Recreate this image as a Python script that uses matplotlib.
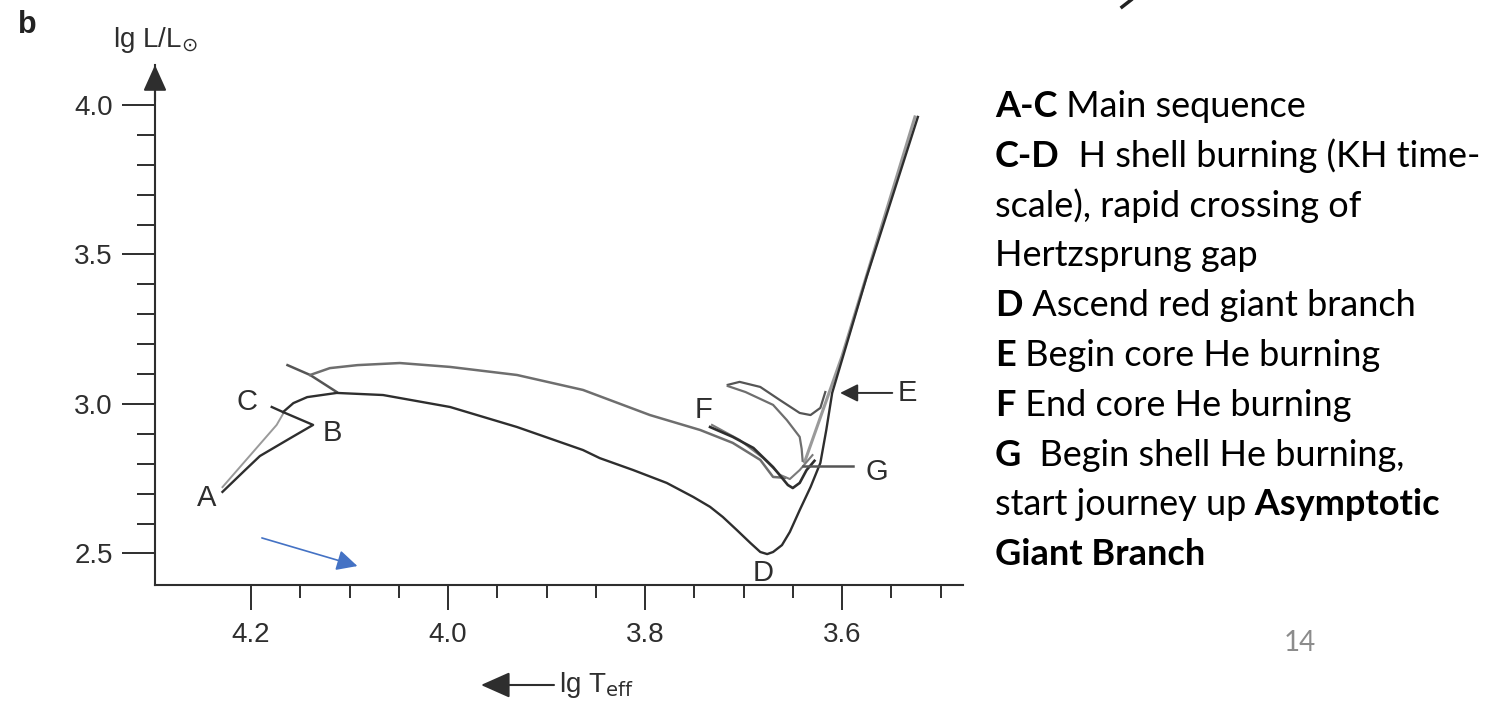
import numpy as np
import matplotlib
matplotlib.use('Agg')
import matplotlib.pyplot as plt
from matplotlib.ticker import FixedLocator, FixedFormatter

plt.rcParams['mathtext.fontset'] = 'custom'
plt.rcParams['mathtext.rm'] = 'Liberation Sans Narrow'
plt.rcParams['mathtext.it'] = 'Liberation Sans Narrow'

W, H = 1509, 709
NARROW = ['Liberation Sans Narrow', 'Liberation Sans', 'DejaVu Sans']
SLIDE = ['Lato', 'DejaVu Sans']
INK = '#2e2e2e'

# --- 5 Msun evolutionary track, lg Teff / lg L ---
# A -> B -> C (main sequence + hook)
ms_T = [4.229, 4.206, 4.191, 4.160, 4.137, 4.1675, 4.179]
ms_L = [2.706, 2.779, 2.826, 2.886, 2.930, 2.973, 2.990]
ms2_T = [4.229, 4.174, 4.1675]
ms2_L = [2.722, 2.930, 2.967]

# C -> D (Hertzsprung gap) and up the red giant branch
cd_T = [4.1675, 4.157, 4.143, 4.113, 4.066, 3.998, 3.930, 3.863, 3.846, 3.812,
        3.778, 3.751, 3.734, 3.721, 3.707, 3.693, 3.683, 3.676, 3.670, 3.661,
        3.653, 3.643, 3.632, 3.622, 3.616, 3.610, 3.575, 3.523]
cd_L = [2.973, 3.003, 3.023, 3.037, 3.030, 2.990, 2.923, 2.846, 2.819, 2.779,
        2.736, 2.689, 2.656, 2.622, 2.579, 2.535, 2.505, 2.498, 2.505, 2.528,
        2.572, 2.645, 2.722, 2.803, 2.913, 3.037, 3.425, 3.960]

# blue loop (upper thin track)
loop_T = [4.140, 4.120, 4.092, 4.049, 3.998, 3.930, 3.863, 3.795, 3.744, 3.711,
          3.683, 3.670, 3.658]
loop_L = [3.097, 3.120, 3.130, 3.137, 3.124, 3.097, 3.047, 2.963, 2.913, 2.870,
          2.813, 2.756, 2.753]
kink_T = [4.163, 4.140, 4.113]
kink_L = [3.130, 3.097, 3.040]

# E loops (core He ignition)
e1_T = [3.716, 3.704, 3.683, 3.663, 3.643, 3.632, 3.622, 3.617]
e1_L = [3.064, 3.074, 3.057, 3.013, 2.970, 2.963, 2.987, 3.040]
e2_T = [3.716, 3.698, 3.670, 3.656, 3.643, 3.641, 3.640]
e2_L = [3.060, 3.040, 2.997, 2.946, 2.890, 2.850, 2.810]

# F tracks (end of core He burning)
f1_T = [3.734, 3.711, 3.690, 3.670, 3.655, 3.650, 3.643, 3.636, 3.628]
f1_L = [2.923, 2.890, 2.853, 2.789, 2.729, 2.719, 2.736, 2.779, 2.810]
f2_T = [3.732, 3.704, 3.680, 3.663, 3.653, 3.643, 3.630]
f2_L = [2.930, 2.880, 2.819, 2.763, 2.749, 2.779, 2.829]

# AGB from G
agb_T = [3.638, 3.600, 3.526]
agb_L = [2.806, 3.160, 3.960]

point_names = ['A', 'B', 'C', 'D', 'E', 'F', 'G']
point_T = [4.245, 4.117, 4.204, 3.680, 3.534, 3.741, 3.565]
point_L = [2.686, 2.903, 3.007, 2.435, 3.037, 2.980, 2.773]

x_major = [4.2, 4.0, 3.8, 3.6]
x_major_labels = ['4.2', '4.0', '3.8', '3.6']
x_minor = [4.15, 4.10, 4.05, 3.95, 3.90, 3.85, 3.75, 3.70, 3.65, 3.55, 3.50]
y_major = [2.5, 3.0, 3.5, 4.0]
y_major_labels = ['2.5', '3.0', '3.5', '4.0']
y_minor = [2.6, 2.7, 2.8, 2.9, 3.1, 3.2, 3.3, 3.4, 3.6, 3.7, 3.8, 3.9]

notes = [
    [('A-C', True), (' Main sequence', False)],
    [('C-D', True), ('  H shell burning (KH time-', False)],
    [('scale), rapid crossing of', False)],
    [('Hertzsprung gap', False)],
    [('D', True), (' Ascend red giant branch', False)],
    [('E', True), (' Begin core He burning', False)],
    [('F', True), (' End core He burning', False)],
    [('G', True), ('  Begin shell He burning,', False)],
    [('start journey up', False), (' Asymptotic', True)],
    [('Giant Branch', True)],
]


def fx(px):
    return px / W


def fy(py):
    return 1 - py / H


fig = plt.figure(figsize=(W / 100, H / 100), dpi=100)
ax = fig.add_axes([fx(155), fy(585), fx(963) - fx(155), fy(65) - fy(585)])
ax.set_xlim(4.2975, 3.4772)
ax.set_ylim(2.3946, 4.1338)
ax.patch.set_alpha(0)

for s in ['top', 'right']:
    ax.spines[s].set_visible(False)
for s in ['left', 'bottom']:
    ax.spines[s].set_color(INK)
    ax.spines[s].set_linewidth(1.5)

ax.xaxis.set_major_locator(FixedLocator(x_major))
ax.xaxis.set_major_formatter(FixedFormatter(x_major_labels))
ax.xaxis.set_minor_locator(FixedLocator(x_minor))
ax.yaxis.set_major_locator(FixedLocator(y_major))
ax.yaxis.set_major_formatter(FixedFormatter(y_major_labels))
ax.yaxis.set_minor_locator(FixedLocator(y_minor))
ax.tick_params(axis='x', which='major', direction='out', length=18, width=1.4,
               color=INK, pad=9, labelsize=20, labelcolor=INK)
ax.tick_params(axis='x', which='minor', direction='out', length=9, width=1.4, color=INK)
ax.tick_params(axis='y', which='major', direction='out', length=24, width=1.4,
               color=INK, pad=6.5, labelsize=20, labelcolor=INK)
ax.tick_params(axis='y', which='minor', direction='out', length=13, width=1.4, color=INK)
for lab in ax.get_xticklabels() + ax.get_yticklabels():
    lab.set_family(NARROW)

# y axis arrow head
ax.annotate('', xy=(0, 1), xycoords='axes fraction', xytext=(0, 0.93),
            arrowprops=dict(arrowstyle='-|>,head_length=0.8,head_width=0.36',
                            mutation_scale=20, color=INK, lw=1.5,
                            shrinkA=0, shrinkB=0))

# tracks
ax.plot(ms2_T, ms2_L, color='#9a9a9a', lw=1.4)
ax.plot(ms_T, ms_L, color=INK, lw=1.7)
ax.plot(kink_T, kink_L, color='#555555', lw=1.8)
ax.plot(loop_T, loop_L, color='#6e6e6e', lw=1.8)
ax.plot(agb_T, agb_L, color='#9a9a9a', lw=2.2)
ax.plot(cd_T, cd_L, color=INK, lw=1.7, solid_joinstyle='round')
ax.plot(e1_T, e1_L, color='#555555', lw=1.6)
ax.plot(e2_T, e2_L, color='#6e6e6e', lw=1.6)
ax.plot(f2_T, f2_L, color='#7a7a7a', lw=1.5)
ax.plot(f1_T, f1_L, color=INK, lw=1.9)

for name, t, l in zip(point_names, point_T, point_L):
    ax.text(t, l, name, fontsize=21, color=INK, ha='center', va='center',
            family=['Liberation Sans', 'DejaVu Sans'])

# E pointer and G line
ax.annotate('', xy=(3.602, 3.037), xytext=(3.549, 3.037),
            arrowprops=dict(arrowstyle='-|>,head_length=0.6,head_width=0.3',
                            mutation_scale=18, color=INK, lw=1.4,
                            shrinkA=0, shrinkB=0))
ax.plot([3.640, 3.589], [2.793, 2.793], color='#555555', lw=1.8)

# blue arrow
ax.annotate('', xy=(4.092, 2.458), xytext=(4.189, 2.552),
            arrowprops=dict(arrowstyle='-|>,head_length=0.7,head_width=0.35',
                            mutation_scale=18, color='#4472c4', lw=1.2,
                            shrinkA=0, shrinkB=0))

# axis titles
fig.text(fx(18), fy(25), 'b', fontsize=22, fontweight='bold', color='#222222',
         ha='left', va='center', family=['Liberation Sans', 'DejaVu Sans'])
fig.text(fx(113), fy(40), r'lg L/L$_{\odot}$', fontsize=20, color=INK,
         ha='left', va='center', family=NARROW)
fig.text(fx(559), fy(685), r'lg T$_{\rm eff}$', fontsize=20, color=INK,
         ha='left', va='center', family=NARROW)
ax.annotate('', xy=(fx(481), fy(685)), xycoords='figure fraction',
            xytext=(fx(554), fy(685)),
            arrowprops=dict(arrowstyle='-|>,head_length=0.9,head_width=0.4',
                            mutation_scale=20, color=INK, lw=1.5,
                            shrinkA=0, shrinkB=0))

# small stroke at top edge
fig.add_artist(plt.Line2D([fx(1122), fx(1131)], [fy(7), fy(0)], color='#222222', lw=2.5))

# notes on the right
renderer = fig.canvas.get_renderer()
for i, line in enumerate(notes):
    x = fx(995)
    y = fy(117 + 49.8 * i)
    for seg, bold in line:
        t = fig.text(x, y, seg, fontsize=26, color='black', ha='left', va='baseline',
                     fontweight='bold' if bold else 'normal', family=SLIDE)
        bb = t.get_window_extent(renderer=renderer)
        x = bb.x1 / W

fig.text(fx(1300), fy(643), '14', fontsize=20, color='#8c8c8c', ha='center',
         va='center', family=SLIDE)

fig.savefig('out.png', dpi=100, facecolor='white')
